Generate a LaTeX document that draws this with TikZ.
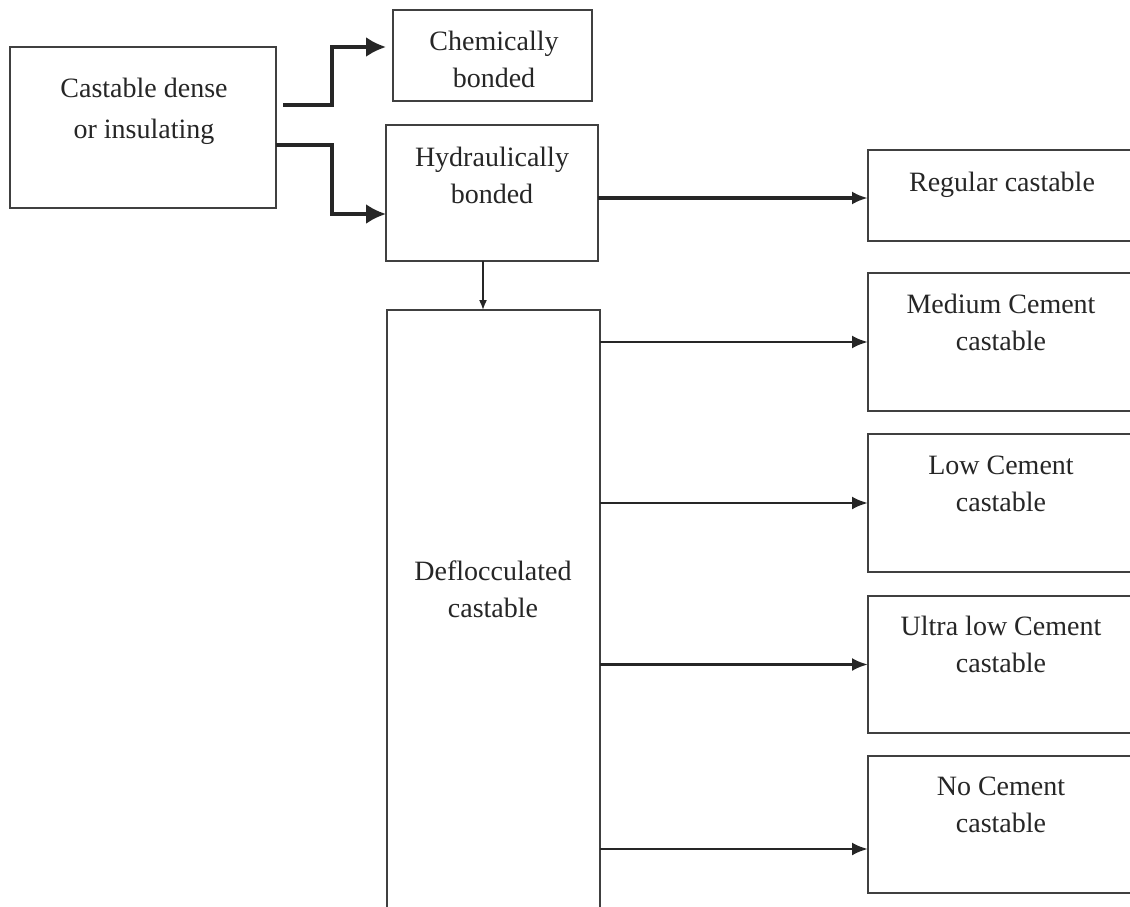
\documentclass[tikz,border=0pt]{standalone}
\usepackage{fontspec}
\setmainfont{Liberation Serif}
\usetikzlibrary{arrows.meta,calc}
\begin{document}
\begin{tikzpicture}[x=1pt,y=-1pt,
  box/.style={draw=black!75, line width=1.8pt, inner sep=0pt, outer sep=0pt},
  lbl/.style={align=center, font=\fontsize{28}{37}\selectfont, text=black!85, inner sep=0pt},
  thk/.style={draw=black!85, line width=3.4pt, -{Latex[length=20pt,width=20pt]}},
  med/.style={draw=black!85, line width=2.8pt, -{Latex[length=16pt,width=13pt]}},
  thn/.style={draw=black!85, line width=1.6pt, -{Latex[length=10pt,width=8pt]}}]
\useasboundingbox (0,0) rectangle (1130,907);
\fill[white] (0,0) rectangle (1130,907);
\begin{scope}
\clip (0,0) rectangle (1130,907);
\node[box, minimum width=266pt, minimum height=161pt] (cast) at (143,127.5) {};
\node[box, minimum width=199pt, minimum height=91pt] (chem) at (492.5,55.5) {};
\node[box, minimum width=212pt, minimum height=136pt] (hyd) at (492,193) {};
\node[box, minimum width=272pt, minimum height=91pt] (reg) at (1004,195.5) {};
\node[box, minimum width=213pt, minimum height=610pt] (defl) at (493.5,615) {};
\node[box, minimum width=272pt, minimum height=138pt] (medc) at (1004,342) {};
\node[box, minimum width=272pt, minimum height=138pt] (lowc) at (1004,503) {};
\node[box, minimum width=272pt, minimum height=137pt] (ulc) at (1004,664.5) {};
\node[box, minimum width=272pt, minimum height=137pt] (noc) at (1004,824.5) {};
\end{scope}

\node[lbl, font=\fontsize{28}{41}\selectfont] (tcast) at (144,111) {Castable dense\\or insulating};
\node[lbl] (tchem) at (494,59.5) {Chemically\\bonded};
\node[lbl] (thyd) at (492,175) {Hydraulically\\bonded};
\node[lbl] (treg) at (1002,185) {Regular castable};
\node[lbl] (tdefl) at (493,589.5) {Deflocculated\\castable};
\node[lbl] (tmed) at (1001,322.5) {Medium Cement\\castable};
\node[lbl] (tlow) at (1001,484) {Low Cement\\castable};
\node[lbl] (tulc) at (1001,644.5) {Ultra low Cement\\castable};
\node[lbl] (tnoc) at (1001,805) {No Cement\\castable};

\coordinate (j) at (332,0);
\coordinate (e1) at ($(cast.east)+(7,-22.5)$);
\coordinate (t1) at ($(chem.west)+(-7,-8.5)$);
\draw[thk] (e1) -- (e1 -| j) |- (t1);
\coordinate (e2) at ($(cast.east)+(0,17.5)$);
\coordinate (t2) at ($(hyd.west)+(0,21)$);
\draw[thk] (e2) -- (e2 -| j) |- (t2);

\coordinate (h1) at ($(hyd.east)+(0,5)$);
\draw[thk, -{Latex[length=16pt,width=13pt]}] (h1) -- (h1 -| reg.west);

\coordinate (d0) at ($(hyd.south)+(-9,0)$);
\draw[thn] (d0) -- (d0 |- defl.north);

\draw[med] (defl.east |- medc.west) -- (medc.west);
\draw[med] (defl.east |- lowc.west) -- (lowc.west);
\draw[med] (defl.east |- ulc.west) -- (ulc.west);
\coordinate (n1) at ($(noc.west)+(0,24.5)$);
\draw[med] (defl.east |- n1) -- (n1);
\end{tikzpicture}
\end{document}
